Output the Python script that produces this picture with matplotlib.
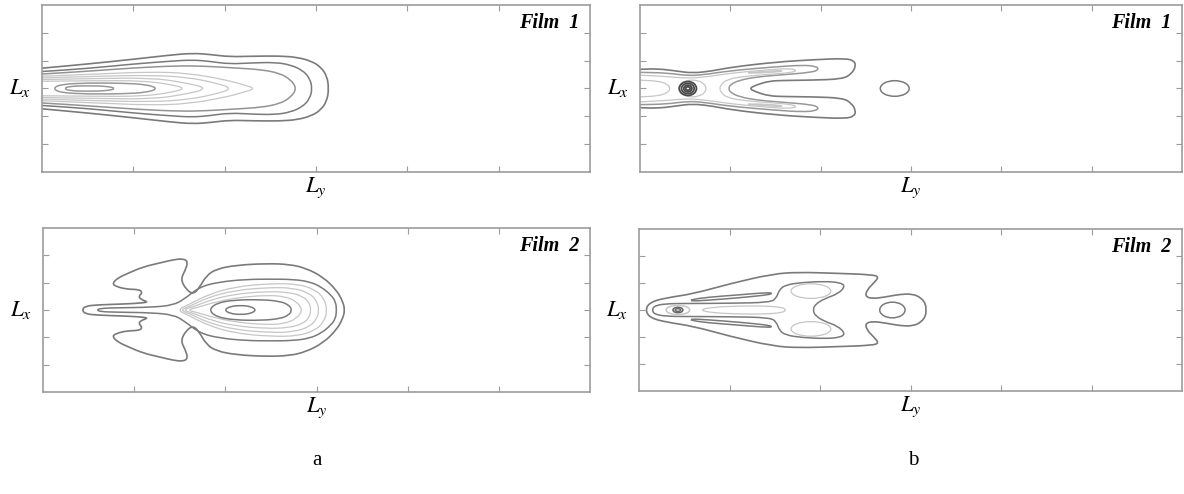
import numpy as np
import matplotlib.pyplot as plt
from matplotlib.path import Path
from matplotlib.patches import PathPatch, Ellipse

plt.rcParams['font.family'] = ['Liberation Serif', 'DejaVu Serif']
plt.rcParams['mathtext.fontset'] = 'stix'

# all four fields are mirror images about the L_x mid-line, so every contour
# is stored as its upper half: x along L_y, h = height above the mid-line
MID = 3.0
TICKS = [1, 2, 3, 4, 5]

# ---- (a) film 1
a1_c1_x = [0, 0.5, 1.0, 1.4, 1.65, 1.85, 2.05, 2.3, 2.6, 2.8, 2.95, 3.05, 3.12, 3.14]
a1_c1_h = [0.73, 0.88, 1.05, 1.20, 1.27, 1.22, 1.14, 1.16, 1.17, 1.12, 0.98, 0.78, 0.45, 0]
a1_c2_x = [0, 0.5, 1.0, 1.4, 1.65, 1.85, 2.05, 2.3, 2.55, 2.72, 2.85, 2.93, 2.96]
a1_c2_h = [0.61, 0.72, 0.88, 0.98, 1.03, 0.97, 0.88, 0.92, 0.94, 0.85, 0.66, 0.38, 0]
a1_c3_x = [0, 0.5, 1.0, 1.5, 1.8, 2.1, 2.4, 2.6, 2.72, 2.79]
a1_c3_h = [0.52, 0.62, 0.74, 0.82, 0.80, 0.74, 0.68, 0.55, 0.33, 0]
a1_c4_x = [0, 0.6, 1.2, 1.6, 2.0, 2.2, 2.34]
a1_c4_h = [0.44, 0.52, 0.60, 0.55, 0.32, 0.14, 0]
a1_c5_x = [0, 0.6, 1.2, 1.6, 1.9, 2.09]
a1_c5_h = [0.38, 0.44, 0.48, 0.40, 0.20, 0]
a1_c6_x = [0, 0.6, 1.2, 1.55, 1.83]
a1_c6_h = [0.32, 0.36, 0.38, 0.22, 0]
a1_c7_x = [0, 0.6, 1.1, 1.4, 1.58]
a1_c7_h = [0.26, 0.28, 0.28, 0.15, 0]
a1_c8_x = [0.12, 0.2, 0.5, 0.9, 1.15, 1.27]
a1_c8_h = [0, 0.15, 0.20, 0.19, 0.14, 0]
a1_c9_x = [0.24, 0.3, 0.5, 0.72, 0.81]
a1_c9_h = [0, 0.08, 0.10, 0.08, 0]

# ---- (a) film 2
a2_c1_x = [0.43, 0.46, 0.6, 0.9, 1.1, 1.15, 1.07, 1.05, 1.09, 1.06, 0.92, 0.8, 0.76,
           0.82, 0.93, 1.1, 1.28, 1.43, 1.54, 1.59, 1.56, 1.51, 1.57, 1.65, 1.72, 1.79,
           1.9, 2.12, 2.45, 2.71, 2.89, 3.07, 3.22, 3.29, 3.31]
a2_c1_h = [0, 0.14, 0.19, 0.22, 0.26, 0.30, 0.39, 0.51, 0.63, 0.75, 0.76, 0.86, 0.97,
           1.17, 1.34, 1.58, 1.72, 1.84, 1.88, 1.76, 1.45, 1.12, 0.75, 0.57, 0.84, 1.25,
           1.50, 1.64, 1.70, 1.67, 1.52, 1.21, 0.73, 0.30, 0]
a2_c2_x = [0.59, 0.63, 0.8, 1.2, 1.43, 1.55, 1.72, 1.94, 2.23, 2.5, 2.74, 2.92, 3.05, 3.16, 3.21, 3.22]
a2_c2_h = [0, 0.06, 0.08, 0.10, 0.18, 0.40, 0.85, 1.03, 1.12, 1.13, 1.12, 1.04, 0.85, 0.55, 0.30, 0]
a2_l1_x = [1.47, 1.6, 1.8, 2.1, 2.5, 2.8, 2.98, 3.08, 3.12]
a2_l1_h = [0, 0.20, 0.55, 0.85, 0.97, 0.95, 0.75, 0.45, 0]
a2_l2_x = [1.5, 1.62, 1.8, 2.1, 2.5, 2.75, 2.92, 3.0, 3.03]
a2_l2_h = [0, 0.15, 0.45, 0.72, 0.83, 0.80, 0.62, 0.35, 0]
a2_l3_x = [1.53, 1.65, 1.85, 2.1, 2.45, 2.7, 2.85, 2.92, 2.94]
a2_l3_h = [0, 0.12, 0.38, 0.58, 0.68, 0.65, 0.50, 0.28, 0]
a2_l4_x = [1.58, 1.7, 1.9, 2.15, 2.45, 2.65, 2.78, 2.85]
a2_l4_h = [0, 0.10, 0.30, 0.46, 0.54, 0.50, 0.32, 0]
a2_c3_x = [1.82, 1.9, 2.1, 2.4, 2.6, 2.7, 2.73]
a2_c3_h = [0, 0.25, 0.37, 0.38, 0.32, 0.18, 0]
a2_c4_x = [1.99, 2.05, 2.17, 2.28, 2.34]
a2_c4_h = [0, 0.13, 0.17, 0.13, 0]

# ---- (b) film 1
b1_c1_x = [0, 0.2, 0.4, 0.58, 0.8, 1.0, 1.5, 1.95, 2.27, 2.37, 2.39, 2.34, 2.24, 1.9, 1.6, 1.43, 1.28, 1.21]
b1_c1_h = [0.69, 0.71, 0.63, 0.55, 0.63, 0.76, 0.95, 1.04, 1.08, 1.00, 0.80, 0.52, 0.34, 0.30, 0.29, 0.27, 0.12, 0]
b1_c2_x = [0, 0.3, 0.52, 0.7, 1.0, 1.5, 1.8, 1.95, 1.98, 1.9, 1.6, 1.3, 1.1, 1.0, 0.98]
b1_c2_h = [0.58, 0.56, 0.46, 0.49, 0.64, 0.78, 0.84, 0.80, 0.68, 0.58, 0.50, 0.42, 0.30, 0.14, 0]
b1_c3_x = [0, 0.3, 0.5, 0.7, 1.0, 1.4, 1.65, 1.74, 1.68, 1.4, 1.1, 0.95, 0.9, 0.88]
b1_c3_h = [0.48, 0.43, 0.37, 0.40, 0.55, 0.67, 0.72, 0.66, 0.57, 0.50, 0.42, 0.30, 0.15, 0]
b1_c4_x = [0, 0.2, 0.3, 0.34]
b1_c4_h = [0.30, 0.27, 0.16, 0]
b1_arm_x = [1.15, 1.35, 1.55, 1.58, 1.5, 1.3]
b1_arm_h = [0.56, 0.61, 0.65, 0.62, 0.59, 0.55]
b1_spot_x = 0.53
b1_spot_w = [0.19, 0.14, 0.09, 0.05]
b1_spot_hgt = [0.50, 0.37, 0.24, 0.12]
b1_halo = (0.58, 0.30, 0.60)      # x, width, height
b1_island = (2.82, 0.32, 0.56)

# ---- (b) film 2
b2_c1_x = [0.07, 0.12, 0.3, 0.6, 1.0, 1.48, 1.77, 2.17, 2.58, 2.65, 2.6, 2.52, 2.5, 2.58,
           2.72, 2.88, 3.02, 3.12, 3.17, 3.17]
b2_c1_h = [0, 0.29, 0.45, 0.60, 0.97, 1.34, 1.40, 1.36, 1.31, 1.22, 1.02, 0.75, 0.50, 0.42,
           0.48, 0.58, 0.60, 0.45, 0.20, 0]
b2_c2_x = [0.14, 0.18, 0.35, 0.55, 1.0, 1.45, 1.52, 1.55, 1.62, 1.8, 2.05, 2.22, 2.28, 2.2, 2.05, 1.95, 1.92]
b2_c2_h = [0, 0.18, 0.24, 0.24, 0.25, 0.28, 0.45, 0.75, 0.93, 1.02, 1.06, 1.02, 0.88, 0.60, 0.42, 0.22, 0]
b2_sliver_x = [0.57, 0.75, 1.1, 1.43, 1.48, 1.4, 1.1, 0.75, 0.58]
b2_sliver_h = [0.38, 0.47, 0.56, 0.65, 0.61, 0.55, 0.45, 0.36, 0.33]
b2_core_x = [0.67, 0.8, 1.1, 1.4, 1.58, 1.63]
b2_core_h = [0, 0.10, 0.15, 0.15, 0.10, 0]
b2_lobe = (1.9, 0.70, 0.44, 0.54)     # x, height above mid-line, width, height
b2_peak_x = 0.43
b2_peak_w = [0.26, 0.11, 0.06]
b2_peak_hgt = [0.34, 0.20, 0.10]
b2_island = (2.80, 0.28, 0.58)

DARK = '#7a7a7a'
LIGHT = '#c6c6c6'
FRAME = '#9c9c9c'


def smooth(pts, closed):
    pts = np.asarray(pts, float)
    n = len(pts)
    if closed:
        mids = (pts + np.roll(pts, -1, axis=0)) / 2
        verts = [mids[-1]]
        codes = [Path.MOVETO]
        for i in range(n):
            verts += [pts[i], mids[i]]
            codes += [Path.CURVE3, Path.CURVE3]
    else:
        mids = (pts[:-1] + pts[1:]) / 2
        verts = [pts[0], mids[0]]
        codes = [Path.MOVETO, Path.LINETO]
        for i in range(1, n - 1):
            verts += [pts[i], mids[i]]
            codes += [Path.CURVE3, Path.CURVE3]
        verts.append(pts[-1])
        codes.append(Path.LINETO)
    return Path(np.array(verts), codes)


def half(ax, xs, hs, color=DARK, lw=1.1):
    xs = np.asarray(xs, float)
    hs = np.asarray(hs, float)
    up = np.column_stack([xs, MID + hs])
    lo = np.column_stack([xs, MID - hs])[::-1]
    if hs[-1] == 0:
        lo = lo[1:]
    closed = hs[0] == 0
    if closed:
        lo = lo[:-1]
    pts = np.vstack([up, lo])
    ax.add_patch(PathPatch(smooth(pts, closed), fill=False, ec=color, lw=lw))


def pair(ax, xs, hs, color=DARK, lw=1.1):
    for s in (1, -1):
        pts = np.column_stack([xs, MID + s * np.asarray(hs, float)])
        ax.add_patch(PathPatch(smooth(pts, True), fill=False, ec=color, lw=lw))


def ring(ax, x, w, h, color=DARK, lw=1.1, dy=0.0):
    ax.add_patch(Ellipse((x, MID + dy), w, h, fill=False, ec=color, lw=lw))


def frame(ax, film):
    ax.set_xlim(0, 6)
    ax.set_ylim(0, 6)
    ax.set_xticks(TICKS)
    ax.set_yticks(TICKS)
    ax.tick_params(direction='in', length=4, width=0.8, color=FRAME,
                   top=True, right=True, labelbottom=False, labelleft=False)
    for sp in ax.spines.values():
        sp.set_color(FRAME)
        sp.set_linewidth(1.2)
    w, h = ax.bbox.width, ax.bbox.height
    ax.text(-22 / w, 0.5, '$L_x$', transform=ax.transAxes, ha='center', va='center', fontsize=16.5)
    ax.text(0.5, -16 / h, '$L_y$', transform=ax.transAxes, ha='center', va='center', fontsize=16.5)
    ax.text(1 - 11 / w, 1 - 18 / h, film, transform=ax.transAxes, ha='right', va='center',
            fontsize=14.5, style='italic', weight='bold')


fig = plt.figure(figsize=(11.84, 4.94), dpi=100)
W, H = 1184, 494
ax_a1 = fig.add_axes([42 / W, (H - 172) / H, 548 / W, 167 / H])
ax_b1 = fig.add_axes([640 / W, (H - 172) / H, 542 / W, 167 / H])
ax_a2 = fig.add_axes([43 / W, (H - 392) / H, 547 / W, 164 / H])
ax_b2 = fig.add_axes([639 / W, (H - 391) / H, 543 / W, 162 / H])

# (a) film 1
half(ax_a1, a1_c1_x, a1_c1_h, lw=1.2)
half(ax_a1, a1_c2_x, a1_c2_h)
half(ax_a1, a1_c3_x, a1_c3_h, color='#939393')
for xs, hs in [(a1_c4_x, a1_c4_h), (a1_c5_x, a1_c5_h), (a1_c6_x, a1_c6_h), (a1_c7_x, a1_c7_h)]:
    half(ax_a1, xs, hs, color=LIGHT, lw=0.9)
half(ax_a1, a1_c8_x, a1_c8_h, color='#989898')
half(ax_a1, a1_c9_x, a1_c9_h, color='#989898')

# (a) film 2
half(ax_a2, a2_c1_x, a2_c1_h, lw=1.2)
half(ax_a2, a2_c2_x, a2_c2_h)
for xs, hs in [(a2_l1_x, a2_l1_h), (a2_l2_x, a2_l2_h), (a2_l3_x, a2_l3_h), (a2_l4_x, a2_l4_h)]:
    half(ax_a2, xs, hs, color=LIGHT, lw=0.9)
half(ax_a2, a2_c3_x, a2_c3_h)
half(ax_a2, a2_c4_x, a2_c4_h)

# (b) film 1
half(ax_b1, b1_c1_x, b1_c1_h, lw=1.2)
half(ax_b1, b1_c2_x, b1_c2_h, color='#989898')
half(ax_b1, b1_c3_x, b1_c3_h, color=LIGHT, lw=0.9)
half(ax_b1, b1_c4_x, b1_c4_h, color=LIGHT, lw=0.9)
pair(ax_b1, b1_arm_x, b1_arm_h, color=LIGHT, lw=0.9)
ring(ax_b1, b1_halo[0], b1_halo[1], b1_halo[2], color=LIGHT, lw=0.9)
for w, h in zip(b1_spot_w, b1_spot_hgt):
    ring(ax_b1, b1_spot_x, w, h, color='#4a4a4a', lw=1.3)
ring(ax_b1, *b1_island)

# (b) film 2
half(ax_b2, b2_c1_x, b2_c1_h, lw=1.2)
half(ax_b2, b2_c2_x, b2_c2_h)
pair(ax_b2, b2_sliver_x, b2_sliver_h)
half(ax_b2, b2_core_x, b2_core_h, color=LIGHT, lw=0.9)
for s in (1, -1):
    ring(ax_b2, b2_lobe[0], b2_lobe[2], b2_lobe[3], color=LIGHT, lw=0.9, dy=s * b2_lobe[1])
for w, h, c in zip(b2_peak_w, b2_peak_hgt, [LIGHT, '#666666', '#666666']):
    ring(ax_b2, b2_peak_x, w, h, color=c)
ring(ax_b2, *b2_island)

for ax, film in [(ax_a1, 'Film  1'), (ax_b1, 'Film  1'), (ax_a2, 'Film  2'), (ax_b2, 'Film  2')]:
    frame(ax, film)

fig.text(317 / W, (H - 460) / H, 'a', ha='center', va='center', fontsize=15)
fig.text(913 / W, (H - 460) / H, 'b', ha='center', va='center', fontsize=15)

fig.savefig('out.png', dpi=100)
